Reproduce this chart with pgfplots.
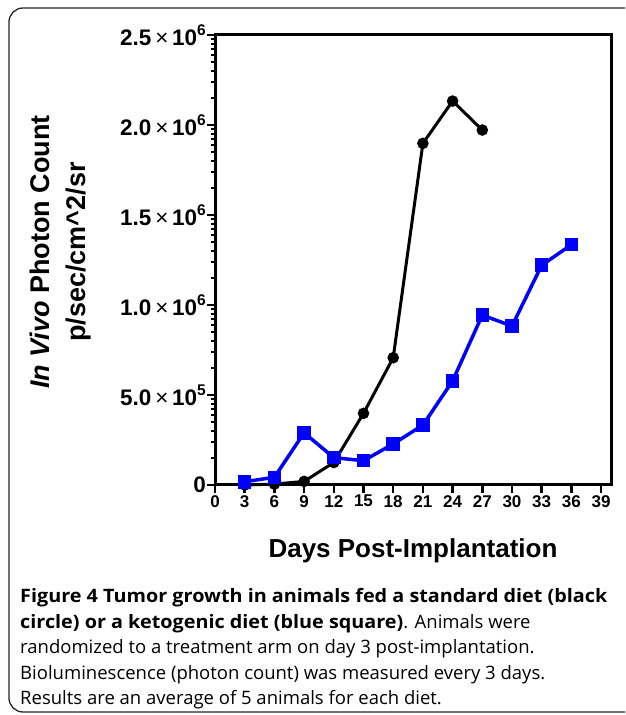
\documentclass[border=0pt]{standalone}
\usepackage{pgfplots}
\pgfplotsset{compat=1.18}
\usepackage{fontspec}
\setmainfont{Liberation Sans}
\newfontfamily\capfont{Open Sans}[BoldFeatures={FakeStretch=1.07}]
\newcommand{\sci}[2]{#1{\fontseries{m}\selectfont\,×\,}10\raisebox{0.45em}{\fontsize{15.5}{15.5}\selectfont #2}}
\begin{document}
\begin{tikzpicture}[x=1pt,y=1pt]
\useasboundingbox (0,0) rectangle (625,715);
\begin{scope}
\clip (0,0) rectangle (625,715);
\draw[line width=1.3pt, black!85, rounded corners=14pt] (9,3) rectangle (660,707);
\end{scope}
\begin{axis}[
  at={(215pt,230pt)}, anchor=south west,
  scale only axis, width=396pt, height=450pt,
  xmin=0, xmax=40, ymin=0, ymax=2500000,
  axis line style={line width=3pt},
  xtick={0,3,...,39},
  ytick={0,500000,1000000,1500000,2000000,2500000},
  yticklabels={0,\sci{5.0}{5},\sci{1.0}{6},\sci{1.5}{6},\sci{2.0}{6},\sci{2.5}{6}},
  scaled y ticks=false,
  minor ytick={150515,238561,301030,349485,389076,422549,451545,477121,
    650515,738561,801030,849485,889076,922549,951545,977121,
    1150515,1238561,1301030,1349485,1389076,1422549,1451545,1477121,
    1650515,1738561,1801030,1849485,1889076,1922549,1951545,1977121,
    2150515,2238561,2301030,2349485,2389076,2422549,2451545,2477121},
  xtick pos=bottom, ytick pos=left,
  tick align=outside,
  major tick length=8pt, minor tick length=4.5pt,
  every tick/.style={black, line width=2.5pt},
  minor tick style={line width=1.8pt},
  /pgf/number format/assume math mode=true,
  xticklabel style={font=\fontsize{17}{17}\selectfont\bfseries, inner sep=2pt},
  yticklabel style={font=\fontsize{22.5}{22.5}\selectfont\bfseries, inner sep=1pt},
  xlabel={Days Post-Implantation},
  xlabel style={font=\fontsize{26}{26}\selectfont\bfseries, at={(axis description cs:0.5,-0.162)}, anchor=base},
  ylabel={\textit{In Vivo} Photon Count\\p/sec/cm\textasciicircum 2/sr},
  ylabel style={font=\fontsize{27}{36}\selectfont\bfseries, align=center, at={(axis description cs:-0.391,0.518)}, anchor=center},
  clip=false,
]
\addplot[black, line width=3pt, mark=*, mark size=4.2pt] coordinates {
  (3,0) (6,5000) (9,20000) (12,125000) (15,398000) (18,707000) (21,1898000) (24,2133000) (27,1972000)
};
\addplot[blue, line width=3.5pt, mark=square*, mark size=5pt, mark options={solid}] coordinates {
  (3,18000) (6,43000) (9,290000) (12,152000) (15,135000) (18,228000) (21,333000) (24,578000) (27,944000) (30,883000) (33,1221000) (36,1335000)
};
\end{axis}
\node[anchor=base west, inner sep=0pt, align=left, font=\capfont\fontsize{18.5}{25.6}\selectfont] at (20,10)
{\textbf{Figure 4 Tumor growth in animals fed a standard diet (black}\\
\textbf{circle) or a ketogenic diet (blue square)}. Animals were\\
randomized to a treatment arm on day 3 post-implantation.\\
Bioluminescence (photon count) was measured every 3 days.\\
Results are an average of 5 animals for each diet.};
\end{tikzpicture}
\end{document}
